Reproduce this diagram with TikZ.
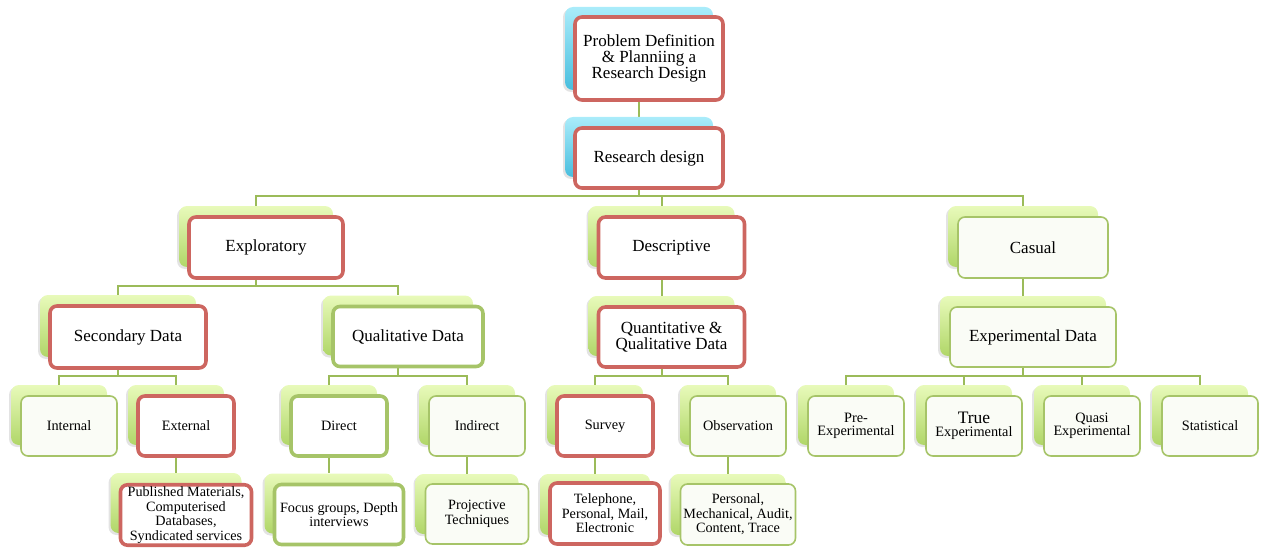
\documentclass[tikz,border=0pt]{standalone}
\usepackage{fontspec}
\setmainfont{Liberation Serif}
\usetikzlibrary{backgrounds,shadows}

\definecolor{redline}{RGB}{205,102,96}
\definecolor{grline}{RGB}{166,196,104}
\definecolor{linkgreen}{RGB}{155,187,89}
\definecolor{gtop}{RGB}{232,250,186}
\definecolor{gbot}{RGB}{176,214,104}
\definecolor{btop}{RGB}{170,236,250}
\definecolor{bbot}{RGB}{72,190,222}
\definecolor{paleface}{RGB}{250,252,246}

\begin{document}
\begin{tikzpicture}[x=1pt, y=-1pt,
    back/.style={rounded corners=8pt, inner sep=0pt, drop shadow={shadow xshift=-2pt, shadow yshift=-2pt, opacity=.22}},
    gback/.style={back, top color=gtop, bottom color=gbot},
    bback/.style={back, top color=btop, bottom color=bbot},
    front/.style={rounded corners=7pt, align=center, inner sep=2pt, fill=white},
    redbox/.style={front, draw=redline, line width=3.6pt},
    grbox/.style={front, draw=grline, line width=3.6pt},
    thinbox/.style={front, draw=grline, line width=1.6pt, fill=paleface},
    big/.style={font=\fontsize{17}{16}\selectfont},
    small/.style={font=\fontsize{14.3}{13.5}\selectfont},
    note/.style={font=\fontsize{14.2}{14.5}\selectfont},
    wh/.style 2 args={minimum width=#1pt, minimum height=#2pt},
    link/.style={draw=linkgreen, line width=2pt}]
    \useasboundingbox (0,0) rectangle (1268,548);
    \coordinate (bus1) at (0,196);
    \coordinate (bus2) at (0,286);
    \coordinate (bus3) at (0,376);
    % top
    \node[bback, wh={148}{83}] (probB) at (639,48.5) {};
    \node[redbox, big, wh={148}{83}] (prob) at ([shift={(10,10)}]probB) {Problem Definition\\\& Planniing a\\Research Design};
    \node[bback, wh={148}{60}] (rdB) at (639,147) {};
    \node[redbox, big, wh={148}{60}] (rd) at ([shift={(10,11)}]rdB) {Research design};
    % second row
    \node[gback, wh={154}{61}] (explB) at (256,236.5) {};
    \node[redbox, big, wh={154}{61}] (expl) at ([shift={(10,11)}]explB) {Exploratory};
    \node[gback, wh={146}{61}] (descB) at (661.5,236.5) {};
    \node[redbox, big, wh={146}{61}] (desc) at ([shift={(10,11)}]descB) {Descriptive};
    \node[gback, wh={150}{61}] (casB) at (1023,236.5) {};
    \node[thinbox, big, wh={150}{61}] (cas) at ([shift={(10,11)}]casB) {Casual};
    % third row
    \node[gback, wh={156}{62}] (secB) at (118,326) {};
    \node[redbox, big, wh={156}{62}] (sec) at ([shift={(10,11)}]secB) {Secondary Data};
    \node[gback, wh={150}{60}] (qualB) at (398,325.5) {};
    \node[grbox, big, wh={150}{60}] (qual) at ([shift={(10,11)}]qualB) {Qualitative Data};
    \node[gback, wh={146}{60}] (quantB) at (661.5,326) {};
    \node[redbox, big, wh={146}{60}] (quant) at ([shift={(10,11)}]quantB) {Quantitative \&\\Qualitative Data};
    \node[gback, wh={166}{60}] (expB) at (1023,326) {};
    \node[thinbox, big, wh={166}{60}] (exp) at ([shift={(10,11)}]expB) {Experimental Data};
    % fourth row
    \node[gback, wh={96}{60}] (intB) at (59,415) {};
    \node[thinbox, small, wh={96}{60}] (int) at ([shift={(10,11)}]intB) {Internal};
    \node[gback, wh={96}{60}] (extB) at (176,415) {};
    \node[redbox, small, wh={96}{60}] (ext) at ([shift={(10,11)}]extB) {External};
    \node[gback, wh={96}{60}] (dirB) at (329,415) {};
    \node[grbox, small, wh={96}{60}] (dir) at ([shift={(10,11)}]dirB) {Direct};
    \node[gback, wh={96}{60}] (indB) at (467,415) {};
    \node[thinbox, small, wh={96}{60}] (ind) at ([shift={(10,11)}]indB) {Indirect};
    \node[gback, wh={96}{60}] (survB) at (595,415) {};
    \node[redbox, small, wh={96}{60}] (surv) at ([shift={(10,11)}]survB) {Survey};
    \node[gback, wh={96}{60}] (obsB) at (728,415) {};
    \node[thinbox, small, wh={96}{60}] (obs) at ([shift={(10,11)}]obsB) {Observation};
    \node[gback, wh={96}{60}] (preB) at (846,415) {};
    \node[thinbox, small, wh={96}{60}] (pre) at ([shift={(10,11)}]preB) {Pre-\\Experimental};
    \node[gback, wh={96}{60}] (trueB) at (964,415) {};
    \node[thinbox, small, wh={96}{60}] (true) at ([shift={(10,11)}]trueB) {{\fontsize{17.5}{14}\selectfont True}\\Experimental};
    \node[gback, wh={96}{60}] (quasiB) at (1082,415) {};
    \node[thinbox, small, wh={96}{60}] (quasi) at ([shift={(10,11)}]quasiB) {Quasi\\Experimental};
    \node[gback, wh={96}{60}] (statB) at (1200,415) {};
    \node[thinbox, small, wh={96}{60}] (stat) at ([shift={(10,11)}]statB) {Statistical};
    % bottom row
    \node[gback, wh={131}{60}] (pubB) at (176,503) {};
    \node[redbox, note, wh={131}{60}] (pub) at ([shift={(10,12)}]pubB) {Published Materials,\\Computerised\\Databases,\\Syndicated services};
    \node[gback, wh={129}{60}] (focB) at (329,503.5) {};
    \node[grbox, note, wh={129}{60}] (foc) at ([shift={(10,11)}]focB) {Focus groups, Depth\\interviews};
    \node[gback, wh={103}{60}] (projB) at (467,504) {};
    \node[thinbox, note, wh={103}{60}] (proj) at ([shift={(10,10)}]projB) {Projective\\Techniques};
    \node[gback, wh={110}{61}] (telB) at (595,504.5) {};
    \node[redbox, note, wh={110}{61}] (tel) at ([shift={(10,9)}]telB) {Telephone,\\Personal, Mail,\\Electronic};
    \node[gback, wh={115}{61}] (persB) at (728,504.5) {};
    \node[thinbox, note, wh={115}{61}] (pers) at ([shift={(10,10)}]persB) {Personal,\\Mechanical, Audit,\\Content, Trace};
    % connectors
    \begin{scope}[on background layer]
        \draw[link] (probB) -- (rdB);
        \foreach \c in {explB,descB,casB} \draw[link] (rdB) -- (rdB |- bus1) -| (\c);
        \foreach \c in {secB,qualB} \draw[link] (explB) -- (explB |- bus2) -| (\c);
        \draw[link] (descB) -- (quantB);
        \draw[link] (casB) -- (expB);
        \foreach \c in {intB,extB} \draw[link] (secB) -- (secB |- bus3) -| (\c);
        \foreach \c in {dirB,indB} \draw[link] (qualB) -- (qualB |- bus3) -| (\c);
        \foreach \c in {survB,obsB} \draw[link] (quantB) -- (quantB |- bus3) -| (\c);
        \foreach \c in {preB,trueB,quasiB,statB} \draw[link] (expB) -- (expB |- bus3) -| (\c);
        \draw[link] (extB) -- (pubB);
        \draw[link] (dirB) -- (focB);
        \draw[link] (indB) -- (projB);
        \draw[link] (survB) -- (telB);
        \draw[link] (obsB) -- (persB);
    \end{scope}
\end{tikzpicture}
\end{document}
